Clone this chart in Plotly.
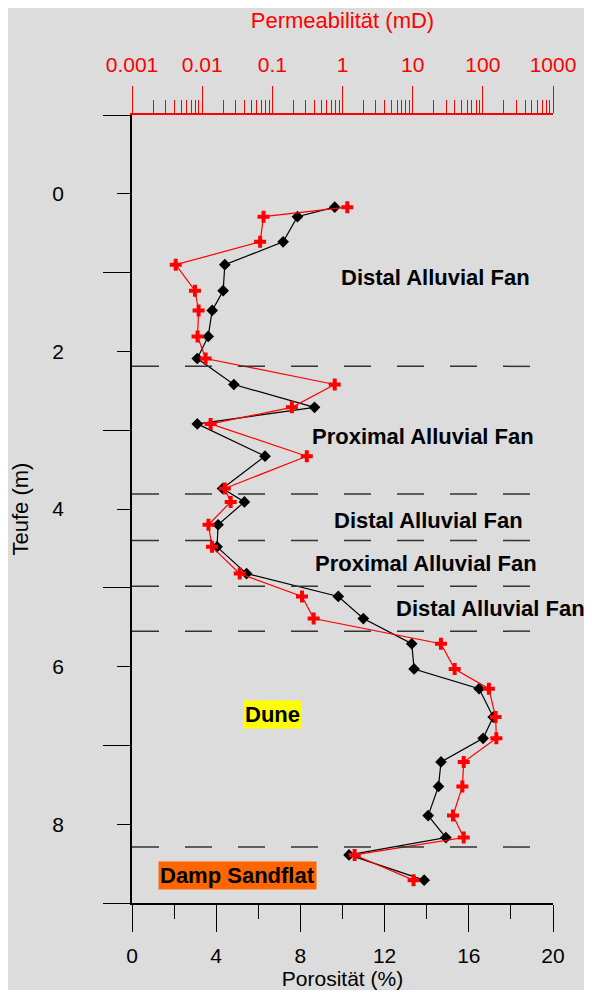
import plotly.graph_objects as go

# ---------------- data ----------------
depth_m = [0.17, 0.29, 0.61, 0.90, 1.23, 1.48, 1.81, 2.09, 2.42, 2.71,
           2.92, 3.33, 3.74, 3.91, 4.20, 4.48, 4.82, 5.11, 5.39, 5.71,
           6.03, 6.28, 6.64, 6.91, 7.21, 7.52, 7.89, 8.17, 8.39, 8.71]
porosity_pct = [9.63, 7.86, 7.18, 4.41, 4.33, 3.81, 3.62, 3.10, 4.84, 8.67,
                3.10, 6.32, 4.30, 5.34, 4.09, 4.04, 5.44, 9.80, 10.99, 13.29,
                13.40, 16.49, 17.16, 16.68, 14.68, 14.56, 14.07, 14.91, 10.31, 13.88]
permeability_md = [1.17, 0.075, 0.067, 0.0042, 0.0079, 0.0089, 0.0086, 0.0112, 0.775, 0.19,
                   0.0132, 0.31, 0.021, 0.0255, 0.0123, 0.0138, 0.0343, 0.265, 0.388, 25.3,
                   39.7, 122, 152, 156, 53.4, 51.1, 37.6, 53.4, 1.49, 10.3]
facies_boundaries_m = [2.19, 3.81, 4.40, 4.98, 5.55, 8.29]
facies_labels = ["Distal Alluvial Fan", "Proximal Alluvial Fan", "Distal Alluvial Fan",
                 "Proximal Alluvial Fan", "Distal Alluvial Fan", "Dune", "Damp Sandflat"]
facies_label_x = [14.43, 13.81, 14.07, 13.95, 17.05, 6.68, 5.0]
facies_label_depth = [1.065, 3.08, 4.15, 4.69, 5.26, 6.61, 8.65]
facies_label_bg = [None, None, None, None, None, "#ffff00", "#ff6600"]

porosity_ticks = [0, 4, 8, 12, 16, 20]
depth_ticks = [0, 2, 4, 6, 8]
perm_ticks = [0.001, 0.01, 0.1, 1, 10, 100, 1000]
perm_ticktext = ["0.001", "0.01", "0.1", "1", "10", "100", "1000"]

FONT = "Liberation Sans, Arial, sans-serif"
GRAY = "#dcdcdc"
RED = "#ff0000"

perm_minor = [m * d for d in [0.001, 0.01, 0.1, 1, 10, 100] for m in range(2, 10)]

fig = go.Figure()

fig.add_trace(go.Scatter(
    x=porosity_pct, y=depth_m, xaxis="x", yaxis="y",
    mode="lines+markers",
    line=dict(color="black", width=1.2),
    marker=dict(symbol="diamond", size=9, color="black"),
    showlegend=False, cliponaxis=False))

fig.add_trace(go.Scatter(
    x=permeability_md, y=depth_m, xaxis="x2", yaxis="y",
    mode="lines+markers",
    line=dict(color=RED, width=1.2),
    marker=dict(symbol="cross", size=10, color=RED),
    showlegend=False, cliponaxis=False))

shapes = []
for b in facies_boundaries_m:
    shapes.append(dict(type="line", xref="x", yref="y", x0=0, x1=19, y0=b, y1=b,
                       line=dict(color="#333333", width=1.5, dash="27px,26px")))

annotations = []
for t, x, y, bg in zip(facies_labels, facies_label_x, facies_label_depth, facies_label_bg):
    a = dict(text="<b>%s</b>" % t, x=x, y=y, xref="x", yref="y", showarrow=False,
             font=dict(family=FONT, size=22, color="black"))
    if bg:
        a["bgcolor"] = bg
        a["borderpad"] = 1
    annotations.append(a)

fig.update_layout(
    width=583, height=982,
    margin=dict(l=124, r=38, t=107, b=87),
    paper_bgcolor=GRAY, plot_bgcolor=GRAY,
    font=dict(family=FONT, size=21, color="black"),
    shapes=shapes, annotations=annotations,
    xaxis=dict(
        range=[0, 20], tickvals=porosity_ticks, ticks="outside", ticklen=27, tickwidth=1.3,
        tickcolor="black", showline=True, linecolor="black", linewidth=1.5,
        showgrid=False, zeroline=False, automargin=False,
        minor=dict(ticks="outside", tick0=0, dtick=2, ticklen=14, tickcolor="black", tickwidth=1.3),
        tickfont=dict(size=21), ticklabelstandoff=6,
        title=dict(text="Porosität (%)", font=dict(size=21), standoff=7)),
    xaxis2=dict(
        type="log", range=[-3, 3], overlaying="x", side="top", anchor="y",
        tickvals=perm_ticks, ticktext=perm_ticktext, ticks="outside", ticklen=27, tickwidth=1.3,
        tickcolor=RED, showline=True, linecolor=RED, linewidth=1.5,
        showgrid=False, zeroline=False, automargin=False,
        minor=dict(ticks="outside", tickvals=perm_minor, ticklen=13, tickcolor=RED, tickwidth=1.3),
        tickfont=dict(size=21, color=RED), ticklabelstandoff=6,
        title=dict(text="Permeabilität (mD)", font=dict(size=22, color=RED), standoff=22)),
    yaxis=dict(
        range=[9, -1], tickvals=depth_ticks, ticks="outside", ticklen=13, tickwidth=1.3,
        tickcolor="black", showline=True, linecolor="black", linewidth=1.5,
        showgrid=False, zeroline=False, automargin=False,
        minor=dict(ticks="outside", tick0=-1, dtick=2, ticklen=27, tickcolor="black", tickwidth=1.3),
        tickfont=dict(size=21), ticklabelstandoff=49,
        title=dict(text="Teufe (m)", font=dict(size=22), standoff=29)),
)

fig.write_html("out.html")
